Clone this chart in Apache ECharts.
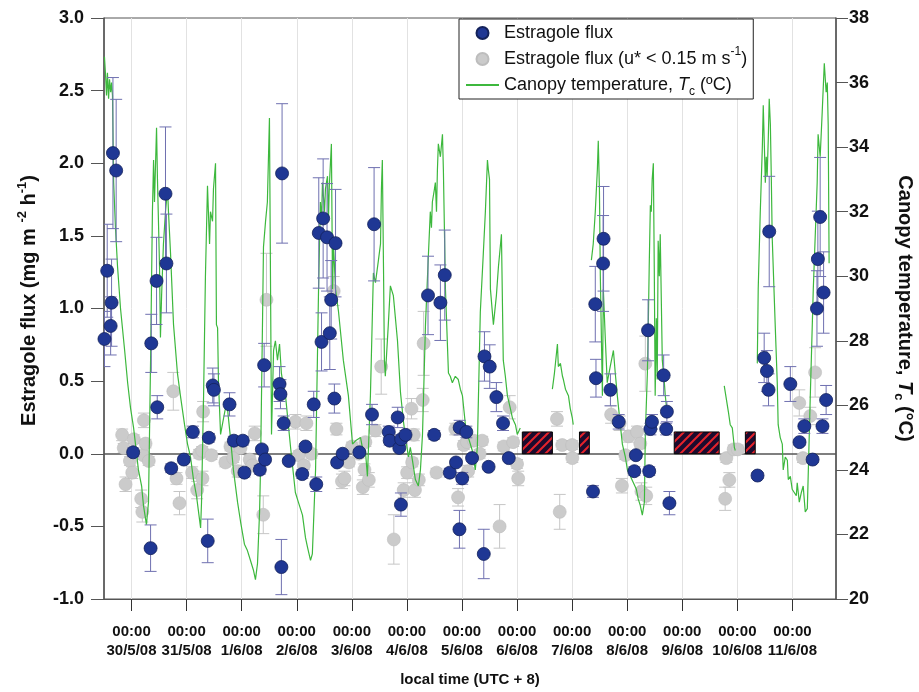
<!DOCTYPE html>
<html>
<head>
<meta charset="utf-8">
<script src="https://cdn.jsdelivr.net/npm/echarts@6/dist/echarts.min.js"></script>
<style>
  html, body { margin: 0; padding: 0; background: #fff; }
  #chart { width: 919px; height: 692px; }
</style>
</head>
<body>
<div id="chart"></div>
<script>
// Time is expressed in hours since 30/5/08 00:00 (local time, UTC + 8).
const dayLabels = ['30/5/08', '31/5/08', '1/6/08', '2/6/08', '3/6/08', '4/6/08', '5/6/08',
                   '6/6/08', '7/6/08', '8/6/08', '9/6/08', '10/6/08', '11/6/08'];
const dayTicks = dayLabels.map((_, i) => i * 24);

// Estragole flux: [hour, flux (mg m-2 h-1), error]
const fluxBlue = [
  [-11.8, 0.79, 0.19], [-10.6, 1.26, 0.32], [-9.1, 0.88, 0.20], [-8.7, 1.04, 0.30],
  [-8.1, 2.07, 0.52], [-6.7, 1.95, 0.49], [0.7, 0.01, 0.03], [8.3, -0.65, 0.16],
  [8.6, 0.76, 0.20], [10.9, 1.19, 0.30], [11.2, 0.32, 0.08], [14.8, 1.79, 0.46],
  [15.2, 1.31, 0.34], [17.3, -0.10, 0.03], [22.8, -0.04, 0.02], [26.7, 0.15, 0.04],
  [33.2, -0.60, 0.15], [33.7, 0.11, 0.03], [35.4, 0.47, 0.12], [35.9, 0.44, 0.11],
  [42.7, 0.34, 0.08], [44.6, 0.09, 0.03], [48.5, 0.09, 0.03], [49.2, -0.13, 0.03],
  [55.9, -0.11, 0.03], [56.8, 0.03, 0.02], [57.8, 0.61, 0.15], [58.2, -0.04, 0.02],
  [64.5, 0.48, 0.12], [64.9, 0.41, 0.10], [65.3, -0.78, 0.19], [65.6, 1.93, 0.48],
  [66.3, 0.21, 0.05], [68.5, -0.05, 0.02], [74.4, -0.14, 0.03], [75.8, 0.05, 0.02],
  [79.4, 0.34, 0.09], [80.5, -0.21, 0.05], [81.6, 1.52, 0.38], [82.8, 0.77, 0.20],
  [83.5, 1.62, 0.41], [85.2, 1.49, 0.37], [86.4, 0.83, 0.25], [87.0, 1.06, 0.27],
  [88.4, 0.38, 0.10], [88.9, 1.45, 0.37], [89.6, -0.06, 0.02], [92.0, 0.00, 0.02],
  [99.3, 0.01, 0.02], [104.8, 0.27, 0.07], [105.7, 1.58, 0.39], [112.1, 0.15, 0.04],
  [112.5, 0.09, 0.03], [116.0, 0.25, 0.07], [116.7, 0.04, 0.02], [117.5, 0.10, 0.03],
  [117.4, -0.35, 0.08], [119.4, 0.13, 0.03], [129.2, 1.09, 0.27], [131.9, 0.13, 0.03],
  [134.6, 1.04, 0.26], [136.5, 1.23, 0.31], [138.7, -0.13, 0.03], [141.4, -0.06, 0.02],
  [142.9, -0.52, 0.13], [143.0, 0.18, 0.05], [144.1, -0.17, 0.04], [145.9, 0.15, 0.04],
  [148.4, -0.03, 0.02], [153.8, 0.67, 0.17], [153.5, -0.69, 0.17], [155.6, -0.09, 0.02],
  [156.1, 0.60, 0.15], [159.0, 0.39, 0.10], [161.9, 0.21, 0.05], [164.4, -0.03, 0.02],
  [201.1, -0.26, 0.04], [202.1, 1.03, 0.26], [202.4, 0.52, 0.13], [205.5, 1.31, 0.33],
  [205.7, 1.48, 0.36], [208.7, 0.44, 0.11], [212.3, 0.22, 0.05], [219.1, -0.12, 0.03],
  [219.8, -0.01, 0.02], [225.1, 0.85, 0.21], [225.6, -0.12, 0.03], [226.1, 0.17, 0.04],
  [226.8, 0.22, 0.05], [231.9, 0.54, 0.14], [233.0, 0.17, 0.04], [233.3, 0.29, 0.07],
  [234.4, -0.34, 0.08], [272.8, -0.15, 0.02], [275.7, 0.66, 0.17], [276.9, 0.57, 0.14],
  [277.6, 0.44, 0.11], [277.9, 1.53, 0.38], [287.1, 0.48, 0.12], [291.1, 0.08, 0.02],
  [293.2, 0.19, 0.05], [296.8, -0.04, 0.02], [298.7, 1.00, 0.26], [299.1, 1.34, 0.33],
  [300.1, 1.63, 0.41], [301.1, 0.19, 0.05], [301.6, 1.11, 0.28], [302.7, 0.37, 0.10]
];

// Estragole flux under low turbulence (u* < 0.15 m s-1): [hour, flux, error]
const fluxGray = [
  [-4.1, 0.13, 0.04], [-3.4, 0.04, 0.03], [-2.6, -0.21, 0.05], [-0.7, -0.05, 0.03],
  [0.3, -0.13, 0.04], [1.0, 0.10, 0.03], [4.2, -0.31, 0.06], [4.7, -0.40, 0.07],
  [5.1, -0.01, 0.03], [5.4, 0.23, 0.05], [6.1, 0.07, 0.03], [7.5, -0.05, 0.03],
  [18.2, 0.43, 0.13], [19.6, -0.17, 0.04], [20.9, -0.34, 0.08], [26.4, -0.13, 0.04],
  [28.6, -0.25, 0.06], [29.5, 0.00, 0.03], [30.8, 0.02, 0.03], [30.9, -0.17, 0.05],
  [31.2, 0.29, 0.07], [34.8, -0.01, 0.03], [40.9, -0.06, 0.03], [43.1, 0.05, 0.03],
  [44.3, -0.03, 0.03], [46.3, -0.12, 0.04], [47.5, 0.04, 0.03], [51.5, -0.04, 0.03],
  [52.6, -0.08, 0.03], [53.7, 0.14, 0.05], [57.4, -0.42, 0.13], [58.8, 1.06, 0.32],
  [71.4, 0.22, 0.05], [72.9, -0.01, 0.03], [75.1, -0.08, 0.03], [76.2, 0.21, 0.05],
  [78.4, 0.00, 0.03], [88.1, 1.12, 0.10], [89.3, 0.17, 0.04], [91.7, -0.19, 0.05],
  [92.8, -0.17, 0.05], [94.7, -0.06, 0.03], [96.1, 0.05, 0.03], [99.0, 0.00, 0.03],
  [100.8, -0.23, 0.05], [101.5, -0.11, 0.04], [101.9, 0.08, 0.03], [103.4, -0.18, 0.05],
  [106.3, 0.16, 0.04], [108.8, 0.60, 0.19], [114.3, -0.59, 0.17], [118.6, -0.25, 0.05],
  [120.1, -0.13, 0.04], [122.0, 0.31, 0.07], [122.3, -0.06, 0.03], [123.0, 0.13, 0.04],
  [123.5, -0.25, 0.05], [125.2, -0.18, 0.04], [126.9, 0.37, 0.08], [127.3, 0.76, 0.22],
  [132.9, -0.13, 0.03], [141.1, 0.17, 0.04], [142.3, -0.30, 0.06], [144.8, 0.06, 0.03],
  [146.2, 0.08, 0.03], [146.7, -0.12, 0.04], [149.1, 0.09, 0.03], [151.7, 0.00, 0.03],
  [152.8, 0.09, 0.03], [160.4, -0.50, 0.15], [162.2, 0.05, 0.03], [164.8, 0.32, 0.08],
  [166.3, 0.08, 0.03], [168.0, -0.07, 0.03], [168.5, -0.17, 0.05], [185.4, 0.24, 0.05],
  [186.6, -0.40, 0.12], [187.7, 0.06, 0.03], [192.0, 0.06, 0.03], [192.1, -0.03, 0.03],
  [209.0, 0.27, 0.06], [212.7, 0.21, 0.05], [213.7, -0.22, 0.05], [215.2, -0.01, 0.03],
  [216.6, 0.12, 0.04], [220.3, 0.15, 0.04], [221.7, 0.07, 0.03], [222.2, -0.26, 0.06],
  [223.9, 0.62, 0.19], [224.3, -0.29, 0.06], [258.7, -0.31, 0.08], [259.2, -0.03, 0.03],
  [260.5, -0.18, 0.05], [262.4, 0.03, 0.03], [264.2, 0.03, 0.03], [291.0, 0.35, 0.09],
  [292.6, -0.03, 0.03], [295.8, 0.26, 0.06], [297.9, 0.56, 0.17]
];

// Canopy temperature Tc (°C): [hour, value], one array per continuous record
const tempSeg1 = [
  [-11.8, 36.8], [-11.3, 36.2], [-10.9, 35.6], [-10.5, 36.3], [-10.0, 35.5], [-9.6, 36.1],
  [-9.1, 35.7], [-8.7, 36.0], [-8.3, 35.6], [-7.8, 32.9], [-7.0, 31.5], [-6.1, 30.3],
  [-4.8, 29.0], [-3.0, 27.7], [-1.7, 26.7], [-0.4, 25.9], [0.9, 25.3], [2.2, 24.5],
  [3.0, 24.0], [4.4, 23.5], [5.2, 22.9], [6.5, 22.3], [7.4, 23.0], [8.3, 27.4],
  [9.1, 32.0], [9.6, 33.6], [10.0, 32.3], [10.9, 34.6], [11.3, 33.0], [12.2, 30.3],
  [12.6, 28.1], [13.1, 29.4], [13.9, 31.0], [14.8, 32.0], [15.7, 32.7], [16.1, 32.0],
  [17.0, 30.7], [18.3, 28.5], [20.0, 27.0], [21.3, 26.3], [23.1, 25.4], [24.4, 24.8],
  [25.7, 24.4], [27.0, 23.7], [28.3, 23.2], [29.2, 22.7], [30.1, 22.2], [30.5, 23.0],
  [31.4, 26.3], [32.2, 30.0], [33.1, 32.8], [33.5, 32.0], [34.0, 31.0], [34.4, 32.0],
  [35.3, 31.7], [35.7, 32.7], [36.6, 33.5], [37.0, 28.5], [37.5, 28.4], [37.9, 26.7],
  [38.8, 25.1], [40.1, 25.6], [40.9, 25.9], [41.8, 25.9], [43.1, 25.0], [44.4, 24.0],
  [46.2, 23.0], [47.5, 22.4], [49.2, 21.7], [50.5, 21.5], [51.8, 21.2], [53.1, 20.9],
  [54.0, 20.6], [54.9, 21.1], [55.8, 22.7], [56.2, 24.0], [57.1, 28.7], [57.5, 30.9],
  [58.4, 31.7], [59.2, 32.3], [60.1, 34.9], [61.0, 25.1], [61.9, 27.7], [62.7, 28.0],
  [63.6, 27.4], [64.5, 27.9], [65.3, 27.0], [66.6, 26.4], [67.1, 26.3], [69.3, 24.7],
  [71.4, 23.3], [72.7, 23.0], [74.5, 22.6], [75.8, 21.9], [76.7, 21.6], [78.0, 21.2],
  [78.8, 21.4], [80.2, 24.0], [81.5, 29.6], [82.3, 32.3], [82.8, 31.7], [83.2, 32.9],
  [84.1, 32.0], [84.5, 32.7], [85.4, 33.1], [85.8, 31.7], [86.2, 32.8], [87.1, 34.1],
  [87.6, 29.6], [88.0, 31.0], [88.9, 29.6], [90.2, 28.9], [92.3, 27.4], [94.5, 26.3],
  [96.3, 24.8], [97.6, 24.9], [99.8, 25.0], [101.1, 24.5], [101.9, 24.6], [102.8, 23.8],
  [104.1, 26.3], [105.4, 30.1], [106.3, 29.8], [107.6, 30.5], [108.5, 31.0], [108.9, 32.7],
  [109.3, 33.6], [109.8, 30.3], [110.2, 27.4], [110.6, 26.9], [111.9, 28.5], [112.8, 29.7],
  [114.1, 29.4], [115.9, 28.0], [117.2, 26.4], [118.5, 25.5], [119.4, 25.0], [120.7, 24.4],
  [121.5, 24.7], [122.4, 24.3], [123.7, 23.7], [125.0, 23.5], [125.9, 24.0], [126.8, 25.1],
  [128.1, 28.5], [129.4, 30.7], [130.2, 32.0], [130.7, 31.5], [131.1, 32.3], [132.0, 32.7],
  [132.4, 32.9], [132.9, 32.0], [133.3, 33.3], [133.7, 34.1], [134.6, 33.7], [135.5, 34.4],
  [135.9, 33.3], [136.8, 29.6], [138.1, 27.0], [138.9, 26.9], [139.8, 26.7], [141.1, 26.9],
  [142.4, 26.8], [143.3, 26.5], [144.2, 26.3], [145.5, 25.4], [146.8, 25.0], [148.5, 24.6],
  [149.8, 24.0], [150.7, 24.7], [152.0, 28.9], [153.3, 30.7], [154.2, 32.0], [155.1, 33.6],
  [155.5, 33.3], [156.0, 33.0], [156.4, 29.6], [157.7, 28.5], [159.0, 29.4], [159.9, 30.3],
  [161.2, 31.3], [162.0, 27.4], [162.9, 26.9], [163.8, 26.3], [165.1, 25.9], [166.0, 25.6],
  [167.3, 25.4], [168.1, 25.1], [169.4, 25.3]
];
const tempSeg2 = [
  [183.4, 26.5], [184.3, 27.0], [185.6, 27.9], [186.0, 27.2], [186.9, 27.3], [187.8, 26.9],
  [188.2, 26.8], [189.1, 26.5], [190.4, 26.3], [191.2, 25.9], [192.1, 25.6], [192.5, 25.4]
];
const tempSeg3 = [
  [200.4, 30.5], [201.2, 31.0], [202.1, 32.0], [203.0, 33.3], [203.4, 34.2], [203.9, 32.7],
  [204.3, 30.0], [205.2, 26.3], [205.6, 29.6], [206.5, 28.0], [207.3, 26.7], [208.6, 27.2],
  [210.0, 27.7], [210.8, 27.0], [211.7, 26.3], [213.0, 25.4], [213.9, 24.8], [215.2, 24.4],
  [216.1, 24.0], [217.4, 23.8], [218.7, 23.6], [220.0, 23.4], [220.8, 23.1], [221.7, 22.9],
  [222.6, 22.6], [223.5, 23.0], [223.9, 25.1], [224.8, 27.0], [225.2, 28.5], [225.6, 30.3],
  [226.1, 32.2], [226.5, 32.0], [226.9, 33.0], [227.4, 33.5], [227.8, 30.3], [228.2, 26.3],
  [228.7, 28.7], [229.1, 26.8], [229.5, 31.1], [230.0, 30.0], [230.4, 31.3], [231.3, 27.4],
  [232.2, 26.7], [232.6, 26.3], [233.5, 25.7]
];
const tempSeg4 = [
  [258.3, 26.6], [259.2, 26.2], [260.1, 25.8], [260.9, 25.4], [261.8, 25.3], [262.7, 24.7],
  [263.1, 24.6]
];
const tempSeg5 = [
  [272.7, 27.3], [273.1, 29.6], [274.0, 32.0], [274.9, 34.0], [275.3, 35.3], [275.8, 34.0],
  [276.2, 32.9], [276.6, 33.7], [277.0, 33.1], [277.5, 34.3], [277.9, 35.5], [278.4, 34.7],
  [278.8, 33.1], [279.2, 31.2], [280.5, 28.5], [281.4, 26.7], [281.8, 25.4], [282.7, 25.0],
  [283.6, 24.8], [284.0, 24.0], [284.9, 24.4], [285.8, 24.3], [286.2, 23.7], [287.1, 23.8],
  [287.9, 23.4], [289.7, 23.2], [290.1, 23.6], [291.0, 23.0], [291.9, 23.3], [292.7, 23.5],
  [293.6, 22.7], [294.5, 22.8], [295.8, 26.3], [297.1, 29.6], [298.8, 32.9], [299.2, 34.4],
  [300.1, 33.7], [301.0, 35.1], [301.9, 36.6], [302.7, 35.7], [303.2, 36.0], [303.6, 34.7],
  [304.0, 30.4]
];

// Periods without flux data: [start hour, end hour, bar height (flux units)]
const dataGaps = [[170.3, 183.4, 0.15], [195.2, 199.5, 0.15], [236.5, 256.1, 0.15], [267.5, 271.8, 0.15]];

// Join the temperature records, breaking the line between them
const tempSegments = [tempSeg1, tempSeg2, tempSeg3, tempSeg4, tempSeg5];
const tempLine = [];
tempSegments.forEach((seg, i) => {
  if (i > 0) tempLine.push([seg[0][0] - 0.1, null]);
  seg.forEach(p => tempLine.push(p));
});

// Hatch fill for the missing-data bars
const hatch = document.createElement('canvas');
hatch.width = 9; hatch.height = 9;
(function () {
  const c = hatch.getContext('2d');
  c.fillStyle = '#1c0b2e';
  c.fillRect(0, 0, 9, 9);
  c.strokeStyle = '#e5232b';
  c.lineWidth = 2;
  c.beginPath();
  c.moveTo(0, 9); c.lineTo(9, 0);
  c.moveTo(-2, 2); c.lineTo(2, -2);
  c.moveTo(7, 11); c.lineTo(11, 7);
  c.stroke();
})();

const FONT = '"Liberation Sans", Arial, Helvetica, sans-serif';

function errorBars(color) {
  return function (params, api) {
    const x = api.value(0), y = api.value(1), e = api.value(2);
    const hi = api.coord([x, y + e]);
    const lo = api.coord([x, y - e]);
    const w = 6;
    const st = { stroke: color, lineWidth: 1 };
    return {
      type: 'group',
      children: [
        { type: 'line', shape: { x1: hi[0], y1: hi[1], x2: lo[0], y2: lo[1] }, style: st },
        { type: 'line', shape: { x1: hi[0] - w, y1: hi[1], x2: hi[0] + w, y2: hi[1] }, style: st },
        { type: 'line', shape: { x1: lo[0] - w, y1: lo[1], x2: lo[0] + w, y2: lo[1] }, style: st }
      ]
    };
  };
}

const NAME_BLUE = 'Estragole flux';
const NAME_GRAY = 'Estragole flux (u* < 0.15 m s-1)';
const NAME_TEMP = 'Canopy temperature, Tc (ºC)';
const legendRich = {};
legendRich[NAME_BLUE] = '{t|Estragole flux}';
legendRich[NAME_GRAY] = '{t|Estragole flux (u* < 0.15 m s}{sup|-1}{t|)}';
legendRich[NAME_TEMP] = '{t|Canopy temperature, }{it|T}{sub|c}{t| (ºC)}';

const chart = echarts.init(document.getElementById('chart'), null, { renderer: 'canvas' });

chart.setOption({
  backgroundColor: '#ffffff',
  animation: false,
  textStyle: { fontFamily: FONT },
  grid: {
    left: 104, right: 83, top: 18, bottom: 93,
    containLabel: false,
    outerBoundsMode: 'none',
    show: true, borderColor: '#555', borderWidth: 1, backgroundColor: 'transparent'
  },
  legend: {
    orient: 'vertical',
    left: 459, top: 19,
    padding: [1, 6, 1, 6],
    itemGap: 0,
    itemWidth: 33, itemHeight: 12,
    backgroundColor: '#fff',
    borderColor: '#222', borderWidth: 1, borderRadius: 0,
    data: [
      { name: NAME_BLUE, icon: 'circle' },
      { name: NAME_GRAY, icon: 'circle' },
      { name: NAME_TEMP, itemStyle: { opacity: 0 } }
    ],
    formatter: name => legendRich[name],
    textStyle: {
      color: '#111',
      fontSize: 18,
      lineHeight: 26,
      rich: {
        t: { fontSize: 18, lineHeight: 26, fontFamily: FONT, color: '#111' },
        it: { fontSize: 18, lineHeight: 26, fontStyle: 'italic', fontFamily: FONT, color: '#111' },
        sup: { fontSize: 12, lineHeight: 14, verticalAlign: 'top', fontFamily: FONT, color: '#111' },
        sub: { fontSize: 12, lineHeight: 14, verticalAlign: 'bottom', fontFamily: FONT, color: '#111' }
      }
    },
    z: 20
  },
  xAxis: {
    type: 'value',
    min: -12, max: 307,
    axisLine: { show: true, onZero: false, lineStyle: { color: '#555', width: 1 } },
    axisTick: { show: true, inside: false, length: 12, customValues: dayTicks, lineStyle: { color: '#333' } },
    axisLabel: {
      customValues: dayTicks,
      formatter: v => '00:00\n' + dayLabels[Math.round(v / 24)],
      fontWeight: 'bold', fontSize: 15, lineHeight: 19, margin: 23, color: '#111', fontFamily: FONT
    },
    splitLine: { show: true, lineStyle: { color: '#e2e2e2', width: 1 } },
    name: 'local time (UTC + 8)',
    nameLocation: 'middle',
    nameGap: 73,
    nameTextStyle: { fontWeight: 'bold', fontSize: 15, color: '#111', fontFamily: FONT }
  },
  yAxis: [
    {
      type: 'value',
      min: -1, max: 3, interval: 0.5,
      position: 'left',
      axisLine: { show: true, onZero: false, lineStyle: { color: '#555', width: 1.5 } },
      axisTick: { show: true, inside: false, length: 13, lineStyle: { color: '#555' } },
      axisLabel: {
        formatter: v => v.toFixed(1),
        fontWeight: 'bold', fontSize: 18, margin: 20, color: '#111', fontFamily: FONT
      },
      splitLine: { show: false },
      name: '{t|Estragole flux (mg m }{sup|-2}{t| h}{sup|-1}{t|)}',
      nameLocation: 'middle',
      nameGap: 62,
      nameTextStyle: {
        padding: [0, 0, 0, 16],
        rich: {
          t: { fontSize: 20, fontWeight: 'bold', lineHeight: 26, color: '#111', fontFamily: FONT },
          sup: { fontSize: 13, fontWeight: 'bold', lineHeight: 14, verticalAlign: 'top', color: '#111', fontFamily: FONT }
        }
      }
    },
    {
      type: 'value',
      min: 20, max: 38, interval: 2,
      position: 'right',
      axisLine: { show: true, onZero: false, lineStyle: { color: '#555', width: 1.5 } },
      axisTick: { show: true, inside: false, length: 12, lineStyle: { color: '#555' } },
      axisLabel: { fontWeight: 'bold', fontSize: 18, margin: 13, color: '#111', fontFamily: FONT },
      splitLine: { show: false },
      name: '{t|Canopy temperature, }{it|T}{sub|c}{t| (°C)}',
      nameLocation: 'middle',
      nameRotate: -90,
      nameGap: 56,
      nameTextStyle: {
        rich: {
          t: { fontSize: 20, fontWeight: 'bold', lineHeight: 26, color: '#111', fontFamily: FONT },
          it: { fontSize: 20, fontWeight: 'bold', fontStyle: 'italic', lineHeight: 26, color: '#111', fontFamily: FONT },
          sub: { fontSize: 13, fontWeight: 'bold', lineHeight: 14, verticalAlign: 'bottom', color: '#111', fontFamily: FONT }
        }
      }
    }
  ],
  series: [
    {
      name: 'gray-err',
      type: 'custom',
      renderItem: errorBars('#c6c6c6'),
      data: fluxGray,
      encode: { x: 0, y: 1 },
      clip: true,
      silent: true,
      z: 2
    },
    {
      name: NAME_GRAY,
      type: 'scatter',
      data: fluxGray.map(d => [d[0], d[1]]),
      symbol: 'circle',
      symbolSize: 13,
      itemStyle: { color: '#cbcbcb', borderColor: '#bdbdbd', borderWidth: 0.6, opacity: 1 },
      z: 3
    },
    {
      name: NAME_TEMP,
      type: 'line',
      yAxisIndex: 1,
      data: tempLine,
      symbol: 'none',
      showSymbol: false,
      connectNulls: false,
      lineStyle: { color: '#3db83d', width: 1.2 },
      itemStyle: { color: '#3db83d' },
      z: 4
    },
    {
      name: 'blue-err',
      type: 'custom',
      renderItem: errorBars('#6f70b0'),
      data: fluxBlue,
      encode: { x: 0, y: 1 },
      clip: true,
      silent: true,
      z: 5
    },
    {
      name: NAME_BLUE,
      type: 'scatter',
      data: fluxBlue.map(d => [d[0], d[1]]),
      symbol: 'circle',
      symbolSize: 13,
      itemStyle: { color: '#1f3794', borderColor: '#14225a', borderWidth: 0.8, opacity: 1 },
      z: 6,
      markLine: {
        silent: true,
        symbol: 'none',
        label: { show: false },
        lineStyle: { color: '#555', width: 1.5, type: 'solid' },
        data: [{ yAxis: 0 }],
        z: 1
      }
    },
    {
      name: 'gaps',
      type: 'custom',
      data: dataGaps,
      encode: { x: [0, 1], y: 2 },
      silent: true,
      renderItem: function (params, api) {
        const p0 = api.coord([api.value(0), api.value(2)]);
        const p1 = api.coord([api.value(1), 0]);
        return {
          type: 'rect',
          shape: { x: p0[0], y: p0[1], width: p1[0] - p0[0], height: p1[1] - p0[1] },
          style: { fill: { image: hatch, repeat: 'repeat' }, stroke: '#000', lineWidth: 1 }
        };
      },
      z: 7
    }
  ]
});
</script>
</body>
</html>
